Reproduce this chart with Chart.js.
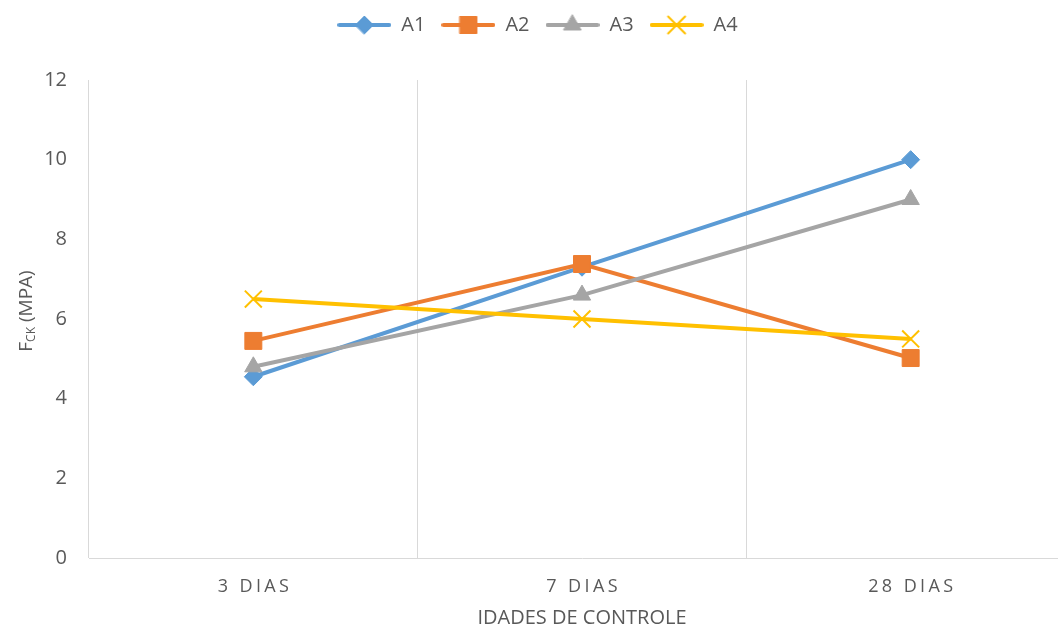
<!DOCTYPE html>
<html>
<head>
<meta charset="utf-8">
<script src="https://cdn.jsdelivr.net/npm/chart.js@4.4.1/dist/chart.umd.min.js"></script>
<style>
  html, body { margin: 0; padding: 0; background: #fff; overflow: hidden; }
  #wrap { width: 1075px; height: 630px; }
</style>
</head>
<body>
<div id="wrap"><canvas id="chart" width="1075" height="630"></canvas></div>
<script>
// data
const categories = ['3 DIAS', '7 DIAS', '28 DIAS'];
const seriesNames = ['A1', 'A2', 'A3', 'A4'];
const a1 = [4.55, 7.3, 10.0];
const a2 = [5.45, 7.38, 5.02];
const a3 = [4.8, 6.6, 9.0];
const a4 = [6.5, 6.0, 5.5];
const yTicks = [0, 2, 4, 6, 8, 10, 12];

const colors = ['#5B9BD5', '#ED7D31', '#A5A5A5', '#FFC000'];
const styles = ['rectRot', 'rect', 'triangle', 'crossRot'];
const radii = [9, 12, 10, 12];
const FONT = '"Open Sans", sans-serif';
const TEXT = '#595959';

// legend swatch: line with marker in the middle, like the office style legend
function makeSwatch(i) {
    const c = document.createElement('canvas');
    c.width = 54;
    c.height = 24;
    const ctx = c.getContext('2d');
    ctx.strokeStyle = colors[i];
    ctx.fillStyle = colors[i];
    ctx.lineWidth = 4;
    ctx.lineCap = 'round';
    ctx.beginPath();
    ctx.moveTo(2, 12);
    ctx.lineTo(52, 12);
    ctx.stroke();
    ctx.lineWidth = i === 3 ? 2 : 1;
    Chart.helpers.drawPoint(ctx, {pointStyle: styles[i], radius: radii[i], rotation: 0, borderWidth: ctx.lineWidth}, 27, 12);
    return c;
}

function makeDataset(i, values) {
    return {
        label: seriesNames[i],
        data: values,
        xAxisID: 'x',
        yAxisID: 'y',
        borderColor: colors[i],
        backgroundColor: colors[i],
        borderWidth: 4,
        pointStyle: styles[i],
        pointRadius: radii[i],
        pointHoverRadius: radii[i],
        pointBorderWidth: i === 3 ? 2 : 1,
        order: 4 - i,
        tension: 0
    };
}

// y title with a subscript: F_CK (MPA)
const yTitlePlugin = {
    id: 'yTitle',
    afterDraw(chart) {
        const ctx = chart.ctx;
        const area = chart.chartArea;
        const big = '19px ' + FONT;
        const small = '12px ' + FONT;
        ctx.save();
        ctx.translate(26, (area.top + area.bottom) / 2 - 8);
        ctx.rotate(-Math.PI / 2);
        ctx.fillStyle = TEXT;
        ctx.textBaseline = 'alphabetic';
        ctx.textAlign = 'left';
        ctx.font = big;
        const wF = ctx.measureText('F').width;
        const wRest = ctx.measureText(' (MPA)').width;
        ctx.font = small;
        const wCK = ctx.measureText('CK').width;
        let x = -(wF + wCK + wRest) / 2;
        ctx.font = big;
        ctx.fillText('F', x, 6);
        x += wF;
        ctx.font = small;
        ctx.fillText('CK', x, 9);
        x += wCK;
        ctx.font = big;
        ctx.fillText(' (MPA)', x, 6);
        ctx.restore();
    }
};

// x category labels are letter-spaced in the reference
const xLabelPlugin = {
    id: 'xLabels',
    afterDraw(chart) {
        const ctx = chart.ctx;
        const xs = chart.scales.x;
        ctx.save();
        ctx.font = '18px ' + FONT;
        ctx.fillStyle = TEXT;
        ctx.textAlign = 'center';
        ctx.textBaseline = 'middle';
        ctx.letterSpacing = '3.4px';
        categories.forEach((c, i) => {
            ctx.fillText(c, xs.getPixelForValue(i) + 1.7, xs.top + 29);
        });
        ctx.restore();
    }
};

new Chart(document.getElementById('chart'), {
    type: 'line',
    data: {
        labels: categories,
        datasets: [makeDataset(0, a1), makeDataset(1, a2), makeDataset(2, a3), makeDataset(3, a4)]
    },
    options: {
        responsive: false,
        animation: false,
        layout: {autoPadding: false, padding: {top: -1, right: 0, bottom: 0, left: 0}},
        plugins: {
            tooltip: {enabled: false},
            legend: {
                position: 'top',
                labels: {
                    usePointStyle: true,
                    pointStyleWidth: 54,
                    padding: 16,
                    color: TEXT,
                    font: {family: FONT, size: 20},
                    generateLabels: (chart) => chart.data.datasets.map((ds, i) => ({
                        text: ds.label,
                        pointStyle: makeSwatch(i),
                        fontColor: TEXT,
                        datasetIndex: i,
                        hidden: false,
                        lineWidth: 0
                    }))
                }
            }
        },
        scales: {
            x: {
                offset: true,
                grid: {
                    offset: true,
                    color: '#D9D9D9',
                    lineWidth: 1,
                    drawTicks: false
                },
                border: {color: '#D9D9D9', width: 1},
                ticks: {display: false},
                title: {
                    display: true,
                    text: 'IDADES DE CONTROLE',
                    color: TEXT,
                    font: {family: FONT, size: 20},
                    padding: {top: 0, bottom: 0}
                },
                afterFit: (scale) => { scale.height = 72; }
            },
            // empty top axis, only keeps the gap between legend and plot
            gap: {
                type: 'category',
                position: 'top',
                labels: categories,
                grid: {display: false, drawTicks: false},
                border: {display: false},
                ticks: {display: false},
                afterFit: (scale) => { scale.height = 35; }
            },
            y: {
                min: 0,
                max: 12,
                afterBuildTicks: (scale) => { scale.ticks = yTicks.map(v => ({value: v})); },
                grid: {display: false, drawTicks: false},
                border: {display: false},
                ticks: {
                    color: TEXT,
                    padding: 22,
                    font: {family: FONT, size: 20}
                },
                afterFit: (scale) => { scale.width = 89; }
            }
        }
    },
    plugins: [yTitlePlugin, xLabelPlugin]
});
</script>
</body>
</html>
